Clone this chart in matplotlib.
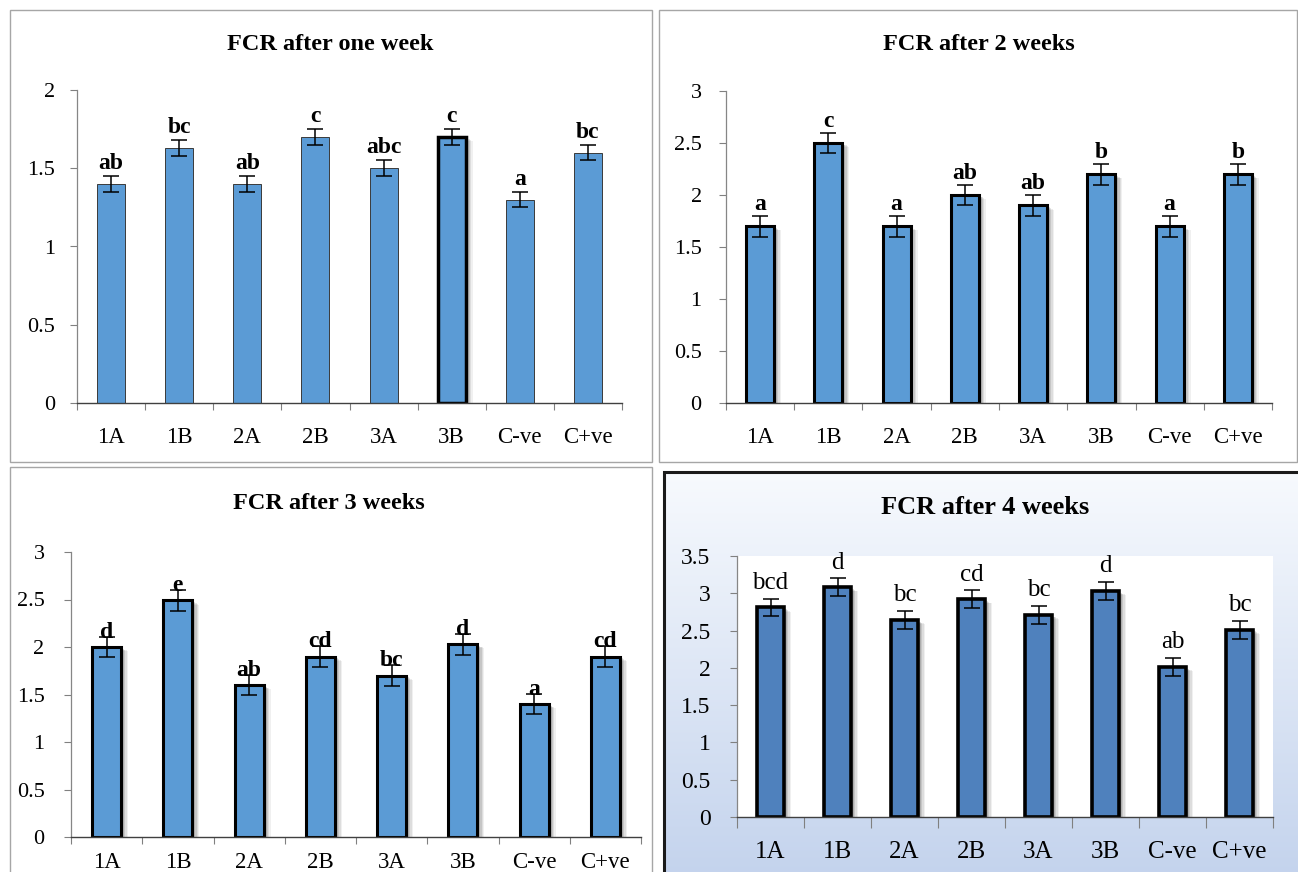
import numpy as np
import matplotlib
matplotlib.use("Agg")
import matplotlib.pyplot as plt
import matplotlib.patheffects as pe
from matplotlib.patches import Rectangle
from matplotlib.ticker import FixedLocator

W, H = 1298, 872

groups = ["1A", "1B", "2A", "2B", "3A", "3B", "C-ve", "C+ve"]

week1 = [1.40, 1.63, 1.40, 1.70, 1.50, 1.70, 1.30, 1.60]
week1_err = [0.05, 0.05, 0.05, 0.05, 0.05, 0.05, 0.05, 0.05]
week1_letters = ["ab", "bc", "ab", "c", "abc", "c", "a", "bc"]

week2 = [1.70, 2.50, 1.70, 2.00, 1.90, 2.20, 1.70, 2.20]
week2_err = [0.10, 0.10, 0.10, 0.10, 0.10, 0.10, 0.10, 0.10]
week2_letters = ["a", "c", "a", "ab", "ab", "b", "a", "b"]

week3 = [2.00, 2.49, 1.60, 1.90, 1.70, 2.03, 1.40, 1.90]
week3_err = [0.11, 0.11, 0.11, 0.11, 0.11, 0.11, 0.11, 0.11]
week3_letters = ["d", "e", "ab", "cd", "bc", "d", "a", "cd"]

week4 = [2.81, 3.08, 2.64, 2.92, 2.71, 3.03, 2.01, 2.51]
week4_err = [0.12, 0.12, 0.12, 0.12, 0.12, 0.12, 0.12, 0.12]
week4_letters = ["bcd", "d", "bc", "cd", "bc", "d", "ab", "bc"]

plt.rcParams["font.family"] = ["Liberation Serif", "DejaVu Serif"]

fig = plt.figure(figsize=(W / 100, H / 100), dpi=100)
fig.patch.set_facecolor("white")


def px_rect(x0, y0, x1, y1):
    # pixel box (top-left origin) -> figure fraction rect
    return [x0 / W, 1 - y1 / H, (x1 - x0) / W, (y1 - y0) / H]


def frame(x0, y0, x1, y1, color, lw):
    r = Rectangle((x0 / W, 1 - y1 / H), (x1 - x0) / W, (y1 - y0) / H,
                  transform=fig.transFigure, fill=False, edgecolor=color,
                  linewidth=lw, zorder=5)
    fig.add_artist(r)


def shadow_effects():
    effects = []
    for k, a in [(5, 0.06), (4, 0.08), (3, 0.10), (2, 0.12)]:
        effects.append(pe.SimplePatchShadow(offset=(k, -k * 0.6),
                                            shadow_rgbFace="black", alpha=a))
    effects.append(pe.Normal())
    return effects


def draw_panel(rect, values, errs, letters, ymax, color, edge, edge_w,
               shadow, xtick_fs, ytick_fs, letter_fs, letter_bold, letter_off,
               ylab_pad, xlab_pad, xtick_len, special=None):
    ax = fig.add_axes(rect, zorder=2)
    x = np.arange(len(groups))
    bars = ax.bar(x, values, width=0.41, color=color, edgecolor=edge,
                  linewidth=edge_w, zorder=2)
    if shadow:
        for b in bars:
            b.set_path_effects(shadow_effects())
    if special is not None:
        b = bars[special]
        b.set_edgecolor("black")
        b.set_linewidth(2.5)
        b.set_path_effects(shadow_effects())
    ax.errorbar(x, values, yerr=errs, fmt="none", ecolor="black",
                elinewidth=1.1, capsize=6, capthick=1.1, zorder=3)
    for xi, v, e, lab in zip(x, values, errs, letters):
        ax.annotate(lab, (xi, v + e), xytext=(0, letter_off),
                    textcoords="offset points", ha="center", va="baseline",
                    fontsize=letter_fs,
                    fontweight="bold" if letter_bold else "normal", zorder=4)
    ax.set_xlim(-0.5, len(groups) - 0.5)
    ax.set_ylim(0, ymax)
    yt = np.arange(0, ymax + 0.01, 0.5)
    ax.set_yticks(yt)
    ax.set_yticklabels([("%g" % t) for t in yt])
    ax.set_xticks(x)
    ax.set_xticklabels(groups)
    ax.xaxis.set_minor_locator(FixedLocator(np.arange(-0.5, len(groups), 1.0)))
    ax.tick_params(axis="x", which="major", length=0, pad=xlab_pad,
                   labelsize=xtick_fs)
    ax.tick_params(axis="x", which="minor", length=xtick_len, width=0.8,
                   color="#808080", direction="out")
    ax.tick_params(axis="y", length=5, width=0.8, color="#808080",
                   direction="out", pad=ylab_pad, labelsize=ytick_fs)
    for s in ["top", "right"]:
        ax.spines[s].set_visible(False)
    ax.spines["left"].set_color("#868686")
    ax.spines["left"].set_linewidth(0.9)
    ax.spines["bottom"].set_color("#404040")
    ax.spines["bottom"].set_linewidth(1.0)
    ax.set_facecolor("white")
    return ax


# panel frames / backgrounds
frame(10, 10, 652, 462, "#a6a6a6", 1.0)
frame(659, 10, 1297, 462, "#a6a6a6", 1.0)
frame(10, 467, 652, 880, "#a6a6a6", 1.0)

bg_ax = fig.add_axes(px_rect(664, 472, 1298, 872), zorder=0)
grad = np.linspace(0, 1, 256).reshape(-1, 1)
top_c = np.array([0.97, 0.98, 0.995])
bot_c = np.array([0.77, 0.83, 0.93])
img = top_c[None, None, :] * (1 - grad[:, :, None]) + bot_c[None, None, :] * grad[:, :, None]
bg_ax.imshow(img, aspect="auto", extent=[0, 1, 0, 1])
bg_ax.axis("off")
frame(664, 472, 1300, 880, "#1a1a1a", 2.2)

blue = "#5B9BD5"
blue4 = "#4F81BD"

draw_panel(px_rect(77, 90, 622, 403), week1, week1_err, week1_letters, 2.0,
           blue, "#3a3a3a", 0.7, False, 16.5, 16, 17, True, 5, 11, 17, 5,
           special=5)
draw_panel(px_rect(726, 91, 1272, 403), week2, week2_err, week2_letters, 3.0,
           blue, "black", 2.2, True, 16.5, 16, 17, True, 4, 12.5, 17, 5)
draw_panel(px_rect(71, 552, 641, 837), week3, week3_err, week3_letters, 3.0,
           blue, "black", 2.2, True, 16.5, 16, 17, True, -1, 14, 11, 5)
draw_panel(px_rect(737, 556, 1273, 817), week4, week4_err, week4_letters, 3.5,
           blue4, "black", 2.6, True, 18, 17, 18, False, 7, 14, 17, 8)

fig.text(330 / W, 1 - 45 / H, "FCR after one week", ha="center", va="center",
         fontsize=17.5, fontweight="bold")
fig.text(979 / W, 1 - 45 / H, "FCR after 2 weeks", ha="center", va="center",
         fontsize=17.5, fontweight="bold")
fig.text(329 / W, 1 - 503 / H, "FCR after 3 weeks", ha="center", va="center",
         fontsize=17.5, fontweight="bold")
fig.text(985 / W, 1 - 508 / H, "FCR after 4 weeks", ha="center", va="center",
         fontsize=19, fontweight="bold")

fig.savefig("out.png", dpi=100)
